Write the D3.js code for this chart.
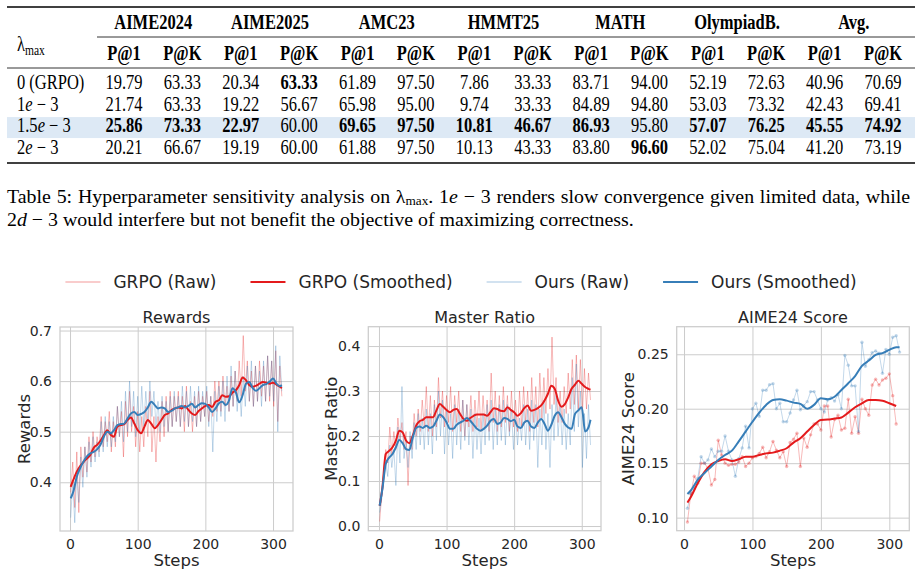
<!DOCTYPE html>
<html>
<head>
<meta charset="utf-8">
<script src="https://cdn.jsdelivr.net/npm/d3@7"></script>
<style>
  body { margin: 0; background: #fff; }
  svg { display: block; }
</style>
</head>
<body>
<svg id="fig" width="921" height="577"></svg>
<script>

// ---------- table data ----------
var groups = ["AIME2024", "AIME2025", "AMC23", "HMMT25", "MATH", "OlympiadB.", "Avg."];
var subCols = ["P@1", "P@K"];
var rowLabels = ["0 (GRPO)", "1e-3", "1.5e-3", "2e-3"];
var tableValues = [
    [19.79, 63.33, 20.34, 63.33, 61.89, 97.50, 7.86, 33.33, 83.71, 94.00, 52.19, 72.63, 40.96, 70.69],
    [21.74, 63.33, 19.22, 56.67, 65.98, 95.00, 9.74, 33.33, 84.89, 94.80, 53.03, 73.32, 42.43, 69.41],
    [25.86, 73.33, 22.97, 60.00, 69.65, 97.50, 10.81, 46.67, 86.93, 95.80, 57.07, 76.25, 45.55, 74.92],
    [20.21, 66.67, 19.19, 60.00, 61.88, 97.50, 10.13, 43.33, 83.80, 96.60, 52.02, 75.04, 41.20, 73.19]
];
var boldCells = [[0, 3], [2, 0], [2, 1], [2, 2], [2, 4], [2, 5], [2, 6], [2, 7], [2, 8],
                 [2, 10], [2, 11], [2, 12], [2, 13], [3, 9]];
var highlightRow = 2;

// ---------- chart data ----------
var legendLabels = ["GRPO (Raw)", "GRPO (Smoothed)", "Ours (Raw)", "Ours (Smoothed)"];
var xTicks = [0, 100, 200, 300];

// raw rewards / master ratio, logged every 3 steps from step 1
var rawSteps = d3.range(1, 314, 3);
var rewardsGrpoRaw = [
    0.38, 0.44, 0.35, 0.46, 0.34, 0.47, 0.41, 0.47, 0.42, 0.49,
    0.44, 0.50, 0.45, 0.49, 0.46, 0.53, 0.47, 0.52, 0.48, 0.54,
    0.46, 0.52, 0.47, 0.55, 0.49, 0.54, 0.45, 0.56, 0.49, 0.58,
    0.50, 0.55, 0.47, 0.54, 0.46, 0.53, 0.47, 0.55, 0.49, 0.58,
    0.46, 0.53, 0.44, 0.53, 0.48, 0.56, 0.49, 0.57, 0.50, 0.58,
    0.51, 0.57, 0.52, 0.58, 0.51, 0.57, 0.50, 0.59, 0.51, 0.56,
    0.50, 0.57, 0.51, 0.58, 0.52, 0.57, 0.53, 0.58, 0.52, 0.57,
    0.53, 0.60, 0.54, 0.60, 0.54, 0.61, 0.55, 0.59, 0.54, 0.61,
    0.55, 0.62, 0.56, 0.64, 0.57, 0.69, 0.58, 0.64, 0.56, 0.62,
    0.55, 0.63, 0.56, 0.64, 0.57, 0.63, 0.56, 0.65, 0.56, 0.64,
    0.55, 0.66, 0.52, 0.63, 0.57
];
var rewardsOursRaw = [
    0.33, 0.40, 0.32, 0.42, 0.36, 0.45, 0.39, 0.47, 0.41, 0.48,
    0.43, 0.49, 0.44, 0.48, 0.45, 0.52, 0.46, 0.53, 0.47, 0.52,
    0.47, 0.53, 0.48, 0.55, 0.49, 0.56, 0.48, 0.58, 0.50, 0.60,
    0.51, 0.58, 0.49, 0.57, 0.50, 0.59, 0.51, 0.58, 0.52, 0.60,
    0.53, 0.58, 0.51, 0.56, 0.50, 0.57, 0.51, 0.56, 0.50, 0.57,
    0.51, 0.58, 0.52, 0.57, 0.51, 0.59, 0.52, 0.58, 0.51, 0.59,
    0.52, 0.58, 0.51, 0.59, 0.52, 0.58, 0.53, 0.59, 0.51, 0.57,
    0.46, 0.58, 0.52, 0.59, 0.53, 0.60, 0.52, 0.61, 0.54, 0.63,
    0.55, 0.62, 0.54, 0.60, 0.53, 0.61, 0.55, 0.63, 0.56, 0.64,
    0.55, 0.63, 0.56, 0.62, 0.55, 0.64, 0.56, 0.65, 0.57, 0.64,
    0.56, 0.67, 0.50, 0.65, 0.58
];
var ratioGrpoRaw = [
    0.01, 0.07, 0.12, 0.17, 0.14, 0.22, 0.16, 0.21, 0.17, 0.24,
    0.19, 0.23, 0.17, 0.21, 0.09, 0.20, 0.17, 0.25, 0.20, 0.26,
    0.21, 0.28, 0.22, 0.31, 0.21, 0.29, 0.20, 0.28, 0.22, 0.33,
    0.24, 0.30, 0.22, 0.29, 0.23, 0.31, 0.21, 0.29, 0.23, 0.30,
    0.21, 0.28, 0.20, 0.27, 0.22, 0.29, 0.21, 0.28, 0.22, 0.30,
    0.21, 0.29, 0.22, 0.28, 0.21, 0.34, 0.23, 0.30, 0.21, 0.29,
    0.22, 0.31, 0.23, 0.29, 0.21, 0.30, 0.22, 0.28, 0.21, 0.30,
    0.22, 0.31, 0.23, 0.30, 0.21, 0.33, 0.23, 0.31, 0.22, 0.34,
    0.24, 0.33, 0.25, 0.35, 0.26, 0.42, 0.27, 0.33, 0.23, 0.30,
    0.23, 0.31, 0.25, 0.34, 0.26, 0.37, 0.27, 0.38, 0.26, 0.37,
    0.25, 0.35, 0.26, 0.34, 0.28
];
var ratioOursRaw = [
    0.03, 0.06, 0.10, 0.14, 0.11, 0.18, 0.13, 0.17, 0.09, 0.22,
    0.14, 0.31, 0.15, 0.19, 0.13, 0.21, 0.15, 0.23, 0.17, 0.25,
    0.18, 0.24, 0.17, 0.26, 0.18, 0.25, 0.16, 0.27, 0.19, 0.30,
    0.20, 0.28, 0.16, 0.26, 0.18, 0.25, 0.15, 0.27, 0.18, 0.26,
    0.17, 0.28, 0.19, 0.27, 0.18, 0.26, 0.15, 0.25, 0.17, 0.24,
    0.16, 0.25, 0.18, 0.27, 0.19, 0.28, 0.17, 0.26, 0.18, 0.27,
    0.19, 0.28, 0.18, 0.27, 0.20, 0.26, 0.17, 0.25, 0.18, 0.24,
    0.19, 0.27, 0.18, 0.26, 0.17, 0.28, 0.19, 0.27, 0.13, 0.26,
    0.18, 0.28, 0.17, 0.25, 0.13, 0.27, 0.19, 0.29, 0.20, 0.27,
    0.18, 0.26, 0.17, 0.25, 0.18, 0.33, 0.21, 0.36, 0.22, 0.30,
    0.13, 0.25, 0.15, 0.27, 0.18
];

// smoothed rewards / master ratio, read every 5 steps
var smoothSteps = [1].concat(d3.range(5, 311, 5)).concat([313]);
var rewardsGrpoSmooth = [
    0.391, 0.405, 0.421, 0.432, 0.440, 0.447, 0.454, 0.468, 0.474, 0.482,
    0.493, 0.503, 0.494, 0.490, 0.510, 0.513, 0.515, 0.523, 0.528, 0.516,
    0.503, 0.497, 0.510, 0.523, 0.516, 0.507, 0.513, 0.523, 0.533, 0.536,
    0.543, 0.546, 0.548, 0.546, 0.551, 0.543, 0.536, 0.533, 0.541, 0.546,
    0.551, 0.553, 0.549, 0.559, 0.562, 0.572, 0.569, 0.570, 0.577, 0.582,
    0.592, 0.607, 0.602, 0.592, 0.589, 0.591, 0.595, 0.598, 0.597, 0.595,
    0.597, 0.593, 0.589, 0.586
];
var rewardsOursSmooth = [
    0.368, 0.382, 0.411, 0.428, 0.441, 0.451, 0.457, 0.460, 0.465, 0.474,
    0.490, 0.500, 0.497, 0.503, 0.513, 0.515, 0.516, 0.526, 0.536, 0.539,
    0.533, 0.535, 0.539, 0.548, 0.559, 0.553, 0.546, 0.548, 0.546, 0.539,
    0.541, 0.546, 0.548, 0.551, 0.548, 0.551, 0.555, 0.548, 0.553, 0.556,
    0.555, 0.548, 0.539, 0.546, 0.556, 0.559, 0.553, 0.562, 0.586, 0.578,
    0.558, 0.572, 0.595, 0.598, 0.586, 0.581, 0.586, 0.592, 0.594, 0.599,
    0.605, 0.595, 0.590, 0.592
];
var ratioGrpoSmooth = [
    0.045, 0.085, 0.160, 0.167, 0.175, 0.190, 0.212, 0.208, 0.190, 0.184,
    0.201, 0.223, 0.233, 0.236, 0.242, 0.242, 0.242, 0.257, 0.271, 0.265,
    0.258, 0.253, 0.258, 0.260, 0.249, 0.238, 0.234, 0.240, 0.245, 0.248,
    0.248, 0.248, 0.245, 0.253, 0.262, 0.260, 0.256, 0.255, 0.264, 0.258,
    0.253, 0.245, 0.251, 0.262, 0.268, 0.256, 0.258, 0.262, 0.268, 0.279,
    0.294, 0.312, 0.305, 0.279, 0.265, 0.271, 0.286, 0.305, 0.314, 0.323,
    0.316, 0.309, 0.305, 0.303
];
var ratioOursSmooth = [
    0.045, 0.082, 0.138, 0.152, 0.160, 0.175, 0.191, 0.184, 0.171, 0.169,
    0.197, 0.218, 0.221, 0.218, 0.223, 0.218, 0.221, 0.234, 0.248, 0.242,
    0.230, 0.216, 0.216, 0.225, 0.230, 0.234, 0.240, 0.234, 0.225, 0.216,
    0.212, 0.216, 0.223, 0.234, 0.238, 0.227, 0.230, 0.240, 0.238, 0.233,
    0.236, 0.221, 0.218, 0.230, 0.234, 0.221, 0.218, 0.230, 0.238, 0.227,
    0.212, 0.225, 0.245, 0.253, 0.242, 0.227, 0.219, 0.216, 0.249, 0.257,
    0.264, 0.210, 0.219, 0.236
];

// AIME24 evaluations every 5 steps
var aimeSteps = d3.range(5, 316, 5);
var aimeGrpoRaw = [
    0.096, 0.122, 0.138, 0.1315, 0.150, 0.150, 0.145, 0.130, 0.135, 0.171,
    0.1575, 0.150, 0.148, 0.149, 0.149, 0.151, 0.156, 0.147, 0.150, 0.155,
    0.156, 0.159, 0.1646, 0.155, 0.1606, 0.170, 0.162, 0.155, 0.1606, 0.147,
    0.169, 0.172, 0.1775, 0.147, 0.173, 0.1646, 0.176, 0.186, 0.186, 0.1805,
    0.2025, 0.2025, 0.174, 0.190, 0.194, 0.1805, 0.182, 0.2087, 0.1775, 0.1927,
    0.1775, 0.2087, 0.200, 0.194, 0.2218, 0.227, 0.2218, 0.2264, 0.228, 0.232,
    0.212, 0.186
];
var aimeOursRaw = [
    0.1086, 0.122, 0.127, 0.136, 0.156, 0.150, 0.153, 0.163, 0.156, 0.161,
    0.161, 0.175, 0.161, 0.153, 0.138, 0.154, 0.164, 0.184, 0.164, 0.200,
    0.205, 0.193, 0.217, 0.217, 0.222, 0.223, 0.200, 0.205, 0.188, 0.188,
    0.196, 0.208, 0.217, 0.199, 0.203, 0.2065, 0.2157, 0.2157, 0.208, 0.200,
    0.197, 0.208, 0.210, 0.207, 0.213, 0.200, 0.249, 0.240, 0.221, 0.221,
    0.179, 0.261, 0.239, 0.245, 0.2515, 0.253, 0.251, 0.2325, 0.2545, 0.250,
    0.2656, 0.267, 0.252
];
var aimeSmoothSteps = [5].concat(d3.range(10, 311, 10));
var aimeGrpoSmooth = [
    0.1138, 0.119, 0.1315, 0.142, 0.149, 0.152, 0.1536, 0.152, 0.1536, 0.156,
    0.156, 0.1575, 0.159, 0.1597, 0.1615, 0.1637, 0.1689, 0.1729, 0.179, 0.185,
    0.1897, 0.190, 0.191, 0.192, 0.1964, 0.2013, 0.205, 0.208, 0.208, 0.2074,
    0.205, 0.2025
];
var aimeOursSmooth = [
    0.1217, 0.125, 0.1346, 0.141, 0.147, 0.153, 0.1575, 0.1615, 0.170, 0.179,
    0.188, 0.1964, 0.2035, 0.208, 0.2087, 0.2074, 0.2056, 0.2044, 0.200, 0.2035,
    0.2096, 0.2087, 0.211, 0.2172, 0.2234, 0.230, 0.2393, 0.2442, 0.2494, 0.251,
    0.254, 0.2564, 0.2564
];

// ---------- styling ----------
var svg = d3.select("#fig");
var serif = "'Liberation Serif', 'Times New Roman', serif";
var sans = "'DejaVu Sans', Verdana, sans-serif";
var red = "#e41a1c", blue = "#377eb8";
var gridColor = "#cccccc", textColor = "#262626";
// the table in the source image is squeezed horizontally
var tableSx = 0.825, capSx = 1.02;

function place(x, y, sx) {
    return "translate(" + x + "," + y + ") scale(" + sx + ",1)";
}

// ---------- table ----------
var colX = d3.scalePoint().domain(d3.range(14)).range([124, 883]);
var rowY = d3.scalePoint().domain(d3.range(4)).range([89, 153.6]);
var tableG = svg.append("g")
    .style("font-family", serif)
    .style("font-size", "20px")
    .attr("fill", "#000");

tableG.append("rect")
    .attr("x", 7).attr("width", 908)
    .attr("y", rowY(highlightRow) - 15).attr("height", 21)
    .attr("fill", "#dde9f5");

[[7, 7, 1.5], [97, 37, 0.8], [7, 68, 0.8], [7, 163, 1.5]].forEach(function(r) {
    tableG.append("line")
        .attr("x1", r[0]).attr("x2", 915)
        .attr("y1", r[1]).attr("y2", r[1])
        .attr("stroke", "#000").attr("stroke-width", r[2]);
});

tableG.selectAll(".group")
    .data(groups)
    .enter()
    .append("text")
    .attr("transform", function(d, i) { return place((colX(2 * i) + colX(2 * i + 1)) / 2, 29.3, tableSx); })
    .attr("text-anchor", "middle")
    .attr("font-weight", "bold")
    .text(function(d) { return d; });

tableG.selectAll(".sub")
    .data(d3.range(14))
    .enter()
    .append("text")
    .attr("transform", function(d) { return place(colX(d), 60, tableSx); })
    .attr("text-anchor", "middle")
    .attr("font-weight", "bold")
    .text(function(d) { return subCols[d % 2]; });

var lam = tableG.append("text").attr("transform", place(17, 51, tableSx));
lam.append("tspan").text("λ");
lam.append("tspan").attr("dy", 4).style("font-size", "14px").text("max");

// row labels, with the "e" in italic like the LaTeX source
function mathLabel(sel, s) {
    s.split(/(e|d|-)/).forEach(function(part) {
        if (part === "") return;
        if (part === "e" || part === "d") {
            sel.append("tspan").style("font-style", "italic").text(part);
        } else if (part === "-") {
            sel.append("tspan").text(" − ");
        } else {
            sel.append("tspan").text(part);
        }
    });
}
rowLabels.forEach(function(lbl, i) {
    var t = tableG.append("text").attr("transform", place(17, rowY(i), tableSx));
    if (i === 0) t.text(lbl); else mathLabel(t, lbl);
});

var isBold = function(r, c) {
    return boldCells.some(function(b) { return b[0] === r && b[1] === c; });
};
tableValues.forEach(function(row, r) {
    tableG.selectAll(".cell-" + r)
        .data(row)
        .enter()
        .append("text")
        .attr("transform", function(d, c) { return place(colX(c), rowY(r), tableSx); })
        .attr("text-anchor", "middle")
        .attr("font-weight", function(d, c) { return isBold(r, c) ? "bold" : "normal"; })
        .text(function(d) { return d.toFixed(2); });
});

// ---------- caption ----------
var cap1 = svg.append("text")
    .attr("transform", place(7, 202.5, capSx))
    .style("font-family", serif).style("font-size", "19.5px").attr("fill", "#000");
cap1.append("tspan").text("Table 5: Hyperparameter sensitivity analysis on λ");
cap1.append("tspan").attr("dy", 2.5).style("font-size", "13px").text("max");
cap1.append("tspan").attr("dy", -2.5).text(". ");
mathLabel(cap1, "1e-3");
cap1.append("tspan").text(" renders slow convergence given limited data, while");
// justify the first line to the text width
var target = 903 / capSx;
var natural = cap1.node().getComputedTextLength();
if (natural > target) {
    cap1.attr("textLength", target).attr("lengthAdjust", "spacingAndGlyphs");
} else {
    var nSpaces = cap1.text().split(" ").length - 1;
    cap1.attr("word-spacing", (target - natural) / nSpaces);
}

var cap2 = svg.append("text")
    .attr("transform", place(7, 225.5, capSx))
    .style("font-family", serif).style("font-size", "19.5px").attr("fill", "#000");
mathLabel(cap2, "2d-3");
cap2.append("tspan").text(" would interfere but not benefit the objective of maximizing correctness.");

// ---------- legend ----------
var legendStyle = [
    { color: red, width: 1.5, opacity: 0.3 },
    { color: red, width: 2, opacity: 1 },
    { color: blue, width: 1.5, opacity: 0.3 },
    { color: blue, width: 2, opacity: 1 }
];
var legendG = svg.append("g");
var items = legendG.selectAll(".leg")
    .data(legendLabels)
    .enter()
    .append("g");
items.append("line")
    .attr("x1", 0).attr("x2", 35).attr("y1", 0).attr("y2", 0)
    .attr("stroke", function(d, i) { return legendStyle[i].color; })
    .attr("stroke-width", function(d, i) { return legendStyle[i].width; })
    .attr("stroke-opacity", function(d, i) { return legendStyle[i].opacity; });
items.append("text")
    .attr("x", 48).attr("dy", "0.35em")
    .style("font-family", sans).style("font-size", "17px")
    .attr("fill", textColor)
    .text(function(d) { return d; });
var widths = [];
items.each(function() { widths.push(48 + d3.select(this).select("text").node().getComputedTextLength()); });
var totalW = d3.sum(widths) + 34 * (widths.length - 1);
var cursor = 461 - totalW / 2;
items.attr("transform", function(d, i) {
    var tx = cursor;
    cursor += widths[i] + 34;
    return "translate(" + tx + ",282)";
});

// ---------- panels ----------
var panels = [
    { title: "Rewards", left: 60, right: 293, top: 327, bottom: 531,
      xDomain: [-14.8, 329.5], yDomain: [0.3036, 0.707], yTicks: [0.4, 0.5, 0.6, 0.7], fmt: ".1f", labelOff: 30,
      raw: [[rawSteps, rewardsGrpoRaw, red], [rawSteps, rewardsOursRaw, blue]],
      smooth: [[smoothSteps, rewardsGrpoSmooth, red], [smoothSteps, rewardsOursSmooth, blue]] },
    { title: "Master Ratio", left: 368.3, right: 601, top: 326.7, bottom: 530.7,
      xDomain: [-15.8, 328.5], yDomain: [-0.0104, 0.443], yTicks: [0, 0.1, 0.2, 0.3, 0.4], fmt: ".1f", labelOff: 31.5,
      raw: [[rawSteps, ratioGrpoRaw, red], [rawSteps, ratioOursRaw, blue]],
      smooth: [[smoothSteps, ratioGrpoSmooth, red], [smoothSteps, ratioOursSmooth, blue]] },
    { title: "AIME24 Score", left: 676.7, right: 909.3, top: 326.7, bottom: 530.7,
      xDomain: [-10.7, 329.2], yDomain: [0.088, 0.2753], yTicks: [0.10, 0.15, 0.20, 0.25], fmt: ".2f", labelOff: 43,
      markers: true,
      raw: [[aimeSteps, aimeGrpoRaw, red], [aimeSteps, aimeOursRaw, blue]],
      smooth: [[aimeSmoothSteps, aimeGrpoSmooth, red], [aimeSmoothSteps.concat([315]), aimeOursSmooth, blue]] }
];

function styleAxis(sel) {
    sel.select(".domain").remove();
    sel.selectAll(".tick line").attr("stroke", gridColor).attr("stroke-width", 1);
    sel.selectAll(".tick text")
        .attr("fill", textColor)
        .style("font-family", sans)
        .style("font-size", "14px");
}

panels.forEach(function(p) {
    var x = d3.scaleLinear().domain(p.xDomain).range([p.left, p.right]);
    var y = d3.scaleLinear().domain(p.yDomain).range([p.bottom, p.top]);
    var w = p.right - p.left, h = p.bottom - p.top;
    var g = svg.append("g");

    g.append("g")
        .attr("transform", "translate(0," + p.bottom + ")")
        .call(d3.axisBottom(x).tickValues(xTicks).tickSize(-h).tickPadding(8.4))
        .call(styleAxis);
    g.append("g")
        .attr("transform", "translate(" + p.left + ",0)")
        .call(d3.axisLeft(y).tickValues(p.yTicks).tickFormat(d3.format(p.fmt)).tickSize(-w).tickPadding(8))
        .call(styleAxis);

    g.append("rect")
        .attr("x", p.left).attr("y", p.top)
        .attr("width", w).attr("height", h)
        .attr("fill", "none")
        .attr("stroke", gridColor).attr("stroke-width", 1.25);

    var line = d3.line()
        .x(function(d) { return x(d[0]); })
        .y(function(d) { return y(d[1]); });
    var smoothLine = d3.line()
        .curve(d3.curveMonotoneX)
        .x(function(d) { return x(d[0]); })
        .y(function(d) { return y(d[1]); });

    p.raw.forEach(function(s) {
        var pts = d3.zip(s[0], s[1]);
        g.append("path")
            .datum(pts)
            .attr("d", line)
            .attr("fill", "none")
            .attr("stroke", s[2])
            .attr("stroke-width", 1)
            .attr("stroke-opacity", 0.3);
        if (p.markers) {
            g.selectAll(null)
                .data(pts)
                .enter()
                .append("circle")
                .attr("cx", function(d) { return x(d[0]); })
                .attr("cy", function(d) { return y(d[1]); })
                .attr("r", 1.7)
                .attr("fill", s[2])
                .attr("fill-opacity", 0.3);
        }
    });

    p.smooth.forEach(function(s) {
        g.append("path")
            .datum(d3.zip(s[0], s[1]))
            .attr("d", smoothLine)
            .attr("fill", "none")
            .attr("stroke", s[2])
            .attr("stroke-width", 2);
    });

    g.append("text")
        .attr("x", (p.left + p.right) / 2).attr("y", 322.5)
        .attr("text-anchor", "middle")
        .style("font-family", sans).style("font-size", "16px")
        .attr("fill", textColor)
        .text(p.title);
    g.append("text")
        .attr("x", (p.left + p.right) / 2).attr("y", 566)
        .attr("text-anchor", "middle")
        .style("font-family", sans).style("font-size", "16.5px")
        .attr("fill", textColor)
        .text("Steps");
    g.append("text")
        .attr("transform", "translate(" + (p.left - p.labelOff) + "," + ((p.top + p.bottom) / 2) + ") rotate(-90)")
        .attr("text-anchor", "middle")
        .style("font-family", sans).style("font-size", "16.5px")
        .attr("fill", textColor)
        .text(p.title);
});

</script>
</body>
</html>
